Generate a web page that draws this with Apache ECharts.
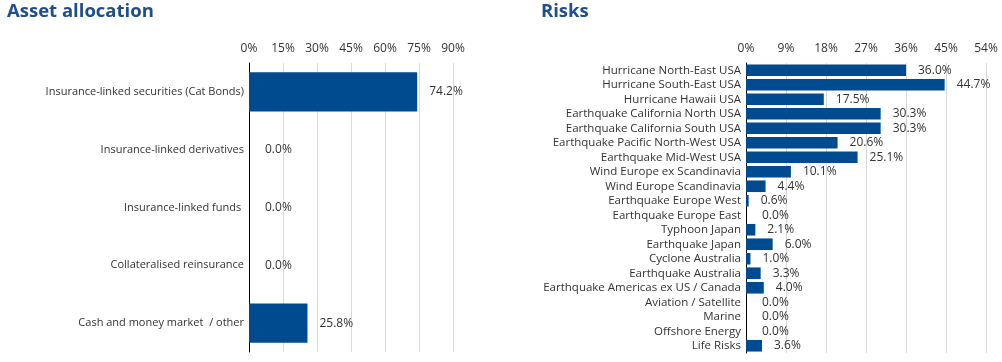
<!DOCTYPE html>
<html><head><meta charset="utf-8">
<script src="https://cdn.jsdelivr.net/npm/echarts@6/dist/echarts.min.js"></script>
<style>html,body{margin:0;padding:0;background:#fff}#c{width:1002px;height:362px}</style>
</head><body><div id="c"></div>
<script>
const assetCategories = ["Insurance-linked securities (Cat Bonds)","Insurance-linked derivatives","Insurance-linked funds ","Collateralised reinsurance","Cash and money market  / other"];
const assetValues = [74.2, 0.0, 0.0, 0.0, 25.8];
const assetTicks = {min: 0, max: 90, interval: 15};
const riskCategories = ["Hurricane North-East USA","Hurricane South-East USA","Hurricane Hawaii USA","Earthquake California North USA","Earthquake California South USA","Earthquake Pacific North-West USA","Earthquake Mid-West USA","Wind Europe ex Scandinavia","Wind Europe Scandinavia","Earthquake Europe West","Earthquake Europe East","Typhoon Japan","Earthquake Japan","Cyclone Australia","Earthquake Australia","Earthquake Americas ex US / Canada","Aviation / Satellite","Marine","Offshore Energy","Life Risks"];
const riskValues = [36.0,44.7,17.5,30.3,30.3,20.6,25.1,10.1,4.4,0.6,0.0,2.1,6.0,1.0,3.3,4.0,0.0,0.0,0.0,3.6];
const riskTicks = {min: 0, max: 54, interval: 9};

const FONT = "Open Sans";
const TXT = "#333333";
const BAR = "#004a8f";
const chart = echarts.init(document.getElementById('c'), null, {renderer:'canvas'});
function xAx(idx, t){
  return {gridIndex: idx, type:'value', position:'top', min:t.min, max:t.max, interval:t.interval,
    axisLine:{show:false}, axisTick:{show:false},
    axisLabel:{formatter:'{value}%', color:TXT, fontFamily:FONT, fontSize:12, margin:8},
    splitLine:{show:true, lineStyle:{color:'#d9d9d9', width:1}}};
}
function yAx(idx, cats, fs){
  return {gridIndex: idx, type:'category', data:cats, inverse:true,
    axisLine:{show:true, lineStyle:{color:'#000', width:1}}, axisTick:{show:false},
    axisLabel:{interval:0, color:TXT, fontFamily:FONT, fontSize:fs, margin:5}};
}
const lbl = {show:true, position:'right', distance:12, color:TXT, fontFamily:FONT, fontSize:12,
  formatter: p => p.value.toFixed(1) + '%'};
const toData = arr => arr.map(v => v === 0 ? {value:v, label:{distance:16}} : v);
chart.setOption({
  animation:false,
  title:[
    {text:'Asset allocation', left:2, top:-3, textStyle:{color:'#1f4e8c', fontFamily:FONT, fontSize:18.5, fontWeight:'bold'}},
    {text:'Risks', left:536, top:-3, textStyle:{color:'#1f4e8c', fontFamily:FONT, fontSize:18.5, fontWeight:'bold'}}
  ],
  grid:[
    {left:249, right:549, top:63, height:289, containLabel:false},
    {left:746, right:16, top:63, height:290, containLabel:false}
  ],
  xAxis:[xAx(0, assetTicks), xAx(1, riskTicks)],
  yAxis:[yAx(0, assetCategories, 11), yAx(1, riskCategories, 11.5)],
  series:[
    {type:'bar', xAxisIndex:0, yAxisIndex:0, data:toData(assetValues), barWidth:'68%', itemStyle:{color:BAR}, label:lbl},
    {type:'bar', xAxisIndex:1, yAxisIndex:1, data:toData(riskValues), barWidth:'80%', itemStyle:{color:BAR}, label:lbl}
  ]
});
</script></body></html>
